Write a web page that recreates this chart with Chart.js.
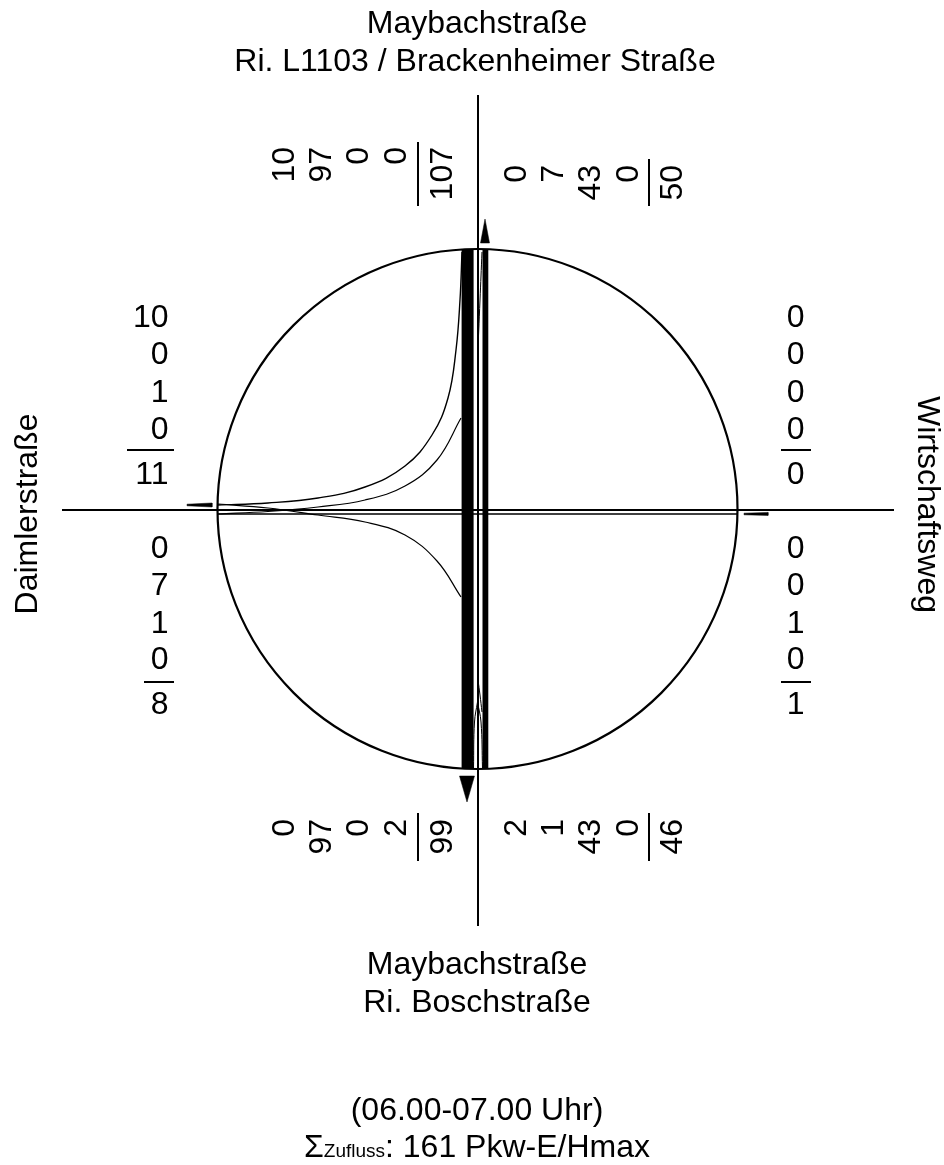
<!DOCTYPE html>
<html>
<head>
<meta charset="utf-8">
<title>Knotenstrombelastung</title>
<style>
  html, body { margin: 0; padding: 0; background: #fff; }
  canvas { display: block; }
</style>
<script src="https://cdn.jsdelivr.net/npm/chart.js@4/dist/chart.umd.min.js"></script>
</head>
<body>
<canvas id="chart" width="944" height="1165"></canvas>
<script>
// ============================================================
// Counts per arm (left to right / top to bottom, last one is the sum)
// ============================================================
const northLeft = ['10', '97', '0', '0', '107'];
const northRight = ['0', '7', '43', '0', '50'];
const southLeft = ['0', '97', '0', '2', '99'];
const southRight = ['2', '1', '43', '0', '46'];
const westUpper = ['10', '0', '1', '0', '11'];
const westLower = ['0', '7', '1', '0', '8'];
const eastUpper = ['0', '0', '0', '0', '0'];
const eastLower = ['0', '0', '1', '0', '1'];

// ============================================================
// Flow paths (x / y in diagram units)
// ============================================================
const axisV = [[478, 95], [478, 926]];
const axisH = [[62, 510], [894, 510]];
const bandMain = [[467.6, 250], [467.6, 768]];
const bandSide = [[485.4, 250], [485.4, 768]];
const flowEast = [[218, 514], [737, 514]];
const curveA = [[218, 505], [268, 503], [318, 498], [365, 487], [405, 466], [432, 435], [448, 398], [456, 350], [460, 300], [462, 252]];
const curveB = [[218, 514], [268, 511.5], [318, 507], [365, 500], [405, 486], [437, 460], [461, 418]];
const curveC = [[218, 504], [268, 508], [318, 515], [365, 522], [405, 535], [437, 561], [461, 597]];
const thinTop = [[482, 252], [480, 300], [477.5, 360]];
const thinS1 = [[477.5, 702], [474.5, 722], [473.5, 768]];
const thinS2 = [[477.5, 702], [481, 722], [482.5, 768]];
const thinS3 = [[478, 680], [480, 695], [482, 712]];
const arrowN = [[485, 219], [489.5, 243], [480.5, 243], [485, 219]];
const arrowS = [[467, 802], [474.5, 776], [459.5, 776], [467, 802]];
const arrowW = [[187, 504.2], [212, 503], [212, 507], [187, 505.8], [187, 504.2]];
const arrowE = [[744, 513.2], [768, 512.4], [768, 515.4], [744, 514.8], [744, 513.2]];
const ruleNL = [[418, 142], [418, 206]];
const ruleNR = [[649, 159], [649, 206]];
const ruleSL = [[418, 813], [418, 861]];
const ruleSR = [[649, 813], [649, 861]];
const ruleWU = [[127, 450], [174, 450]];
const ruleWL = [[144, 682], [174, 682]];
const ruleEU = [[781, 450], [811, 450]];
const ruleEL = [[781, 682], [811, 682]];
const junction = [[477.5, 509]];

const pts = list => list.map(p => ({ x: p[0], y: p[1] }));

function line(list, width, extra) {
  return Object.assign({
    data: pts(list), showLine: true, pointRadius: 0, borderColor: '#000',
    borderWidth: width, tension: 0, fill: false,
  }, extra);
}
const curve = (list, width) => line(list, width, { tension: 0.4 });
const arrow = list => line(list, 0.5, { fill: 'shape', backgroundColor: '#000' });

// ============================================================
// Text, drawn in the diagram's own scale
// ============================================================
const FONT = '"Liberation Sans", Arial, sans-serif';
const SIZE = 32;

function put(chart, text, x, y, opts) {
  const o = opts || {};
  const c = chart.ctx;
  c.save();
  c.translate(chart.scales.x.getPixelForValue(x), chart.scales.y.getPixelForValue(y));
  if (o.rot) c.rotate(o.rot);
  c.fillStyle = '#000';
  c.font = (o.size || SIZE) + 'px ' + FONT;
  c.textAlign = o.align || 'center';
  c.textBaseline = 'middle';
  // 'middle' sits a bit above the glyph centre of digits and capitals
  c.fillText(text, 0, 2);
  c.restore();
}

const textPlugin = {
  id: 'labels',
  afterDraw(chart) {
    put(chart, 'Maybachstraße', 477, 22);
    put(chart, 'Ri. L1103 / Brackenheimer Straße', 475, 60);
    put(chart, 'Maybachstraße', 477, 963);
    put(chart, 'Ri. Boschstraße', 477, 1001);
    put(chart, '(06.00-07.00 Uhr)', 477, 1109);

    put(chart, 'Daimlerstraße', 26, 514, { rot: -Math.PI / 2 });
    put(chart, 'Wirtschaftsweg', 929, 504.5, { rot: Math.PI / 2 });

    // Sigma line has a small subscript in the middle
    const c = chart.ctx;
    c.font = SIZE + 'px ' + FONT;
    const wSigma = c.measureText('Σ').width;
    const wRest = c.measureText(': 161 Pkw-E/Hmax').width;
    c.font = '19px ' + FONT;
    const wSub = c.measureText('Zufluss').width;
    let x = 477 - (wSigma + wRest + wSub) / 2;
    put(chart, 'Σ', x, 1146, { align: 'left' });
    x += wSigma;
    put(chart, 'Zufluss', x, 1149.5, { align: 'left', size: 19 });
    x += wSub;
    put(chart, ': 161 Pkw-E/Hmax', x, 1146, { align: 'left' });

    const rowsU = [316, 353, 391, 428, 473];
    const rowsL = [547, 584, 622, 658, 703];
    westUpper.forEach((t, i) => put(chart, t, 168.5, rowsU[i], { align: 'right' }));
    westLower.forEach((t, i) => put(chart, t, 168.5, rowsL[i], { align: 'right' }));
    eastUpper.forEach((t, i) => put(chart, t, 804.5, rowsU[i], { align: 'right' }));
    eastLower.forEach((t, i) => put(chart, t, 804.5, rowsL[i], { align: 'right' }));

    const colsL = [283.5, 320, 357, 395, 441];
    const colsR = [515, 552, 589, 627, 671];
    const up = { rot: -Math.PI / 2, align: 'right' };
    northLeft.forEach((t, i) => put(chart, t, colsL[i], 147, up));
    northRight.forEach((t, i) => put(chart, t, colsR[i], 165, up));
    southLeft.forEach((t, i) => put(chart, t, colsL[i], 819, up));
    southRight.forEach((t, i) => put(chart, t, colsR[i], 819, up));
  },
};

// ============================================================
// Chart
// ============================================================
new Chart(document.getElementById('chart').getContext('2d'), {
  type: 'scatter',
  data: {
    datasets: [
      line(flowEast, 1.5),
      curve(curveA, 1.4),
      curve(curveB, 1.2),
      curve(curveC, 1.2),
      line(bandMain, 12),
      line(bandSide, 5.8),
      curve(thinTop, 1),
      curve(thinS1, 1),
      curve(thinS2, 1),
      curve(thinS3, 1),
      line(axisV, 2),
      line(axisH, 2),
      arrow(arrowN), arrow(arrowS), arrow(arrowW), arrow(arrowE),
      line(ruleNL, 2), line(ruleNR, 2), line(ruleSL, 2), line(ruleSR, 2),
      line(ruleWU, 2), line(ruleWL, 2), line(ruleEU, 2), line(ruleEL, 2),
      // the junction circle
      { data: pts(junction), pointRadius: 260, pointBorderWidth: 2.2, pointBorderColor: '#000', pointBackgroundColor: 'rgba(0,0,0,0)', clip: false },
    ],
  },
  options: {
    responsive: false,
    animation: false,
    layout: { padding: 0, autoPadding: false },
    plugins: { legend: { display: false }, tooltip: { enabled: false } },
    scales: {
      x: { type: 'linear', display: false, min: 0, max: 944 },
      y: { type: 'linear', display: false, min: 0, max: 1165, reverse: true },
    },
  },
  plugins: [textPlugin],
});
</script>
</body>
</html>
